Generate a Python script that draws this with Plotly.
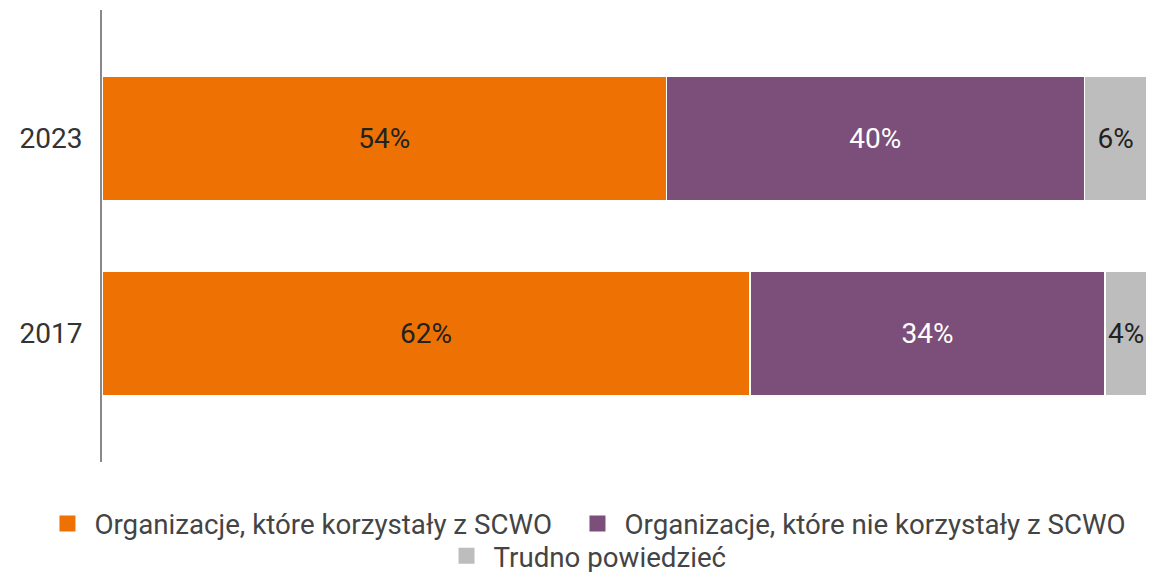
import plotly.graph_objects as go

years = ["2017", "2023"]
used = [62, 54]
not_used = [34, 40]
hard_to_say = [4, 6]

names = ["Organizacje, które korzystały z SCWO",
         "Organizacje, które nie korzystały z SCWO",
         "Trudno powiedzieć"]
colors = ["#EE7203", "#7B4F7A", "#BDBDBD"]
text_colors = ["#222222", "#FFFFFF", "#222222"]
series = [used, not_used, hard_to_say]
legends = ["legend", "legend2", "legend3"]

FONT = "Roboto, Arial, sans-serif"
FS = 28

fig = go.Figure()
for name, vals, col, tcol in zip(names, series, colors, text_colors):
    fig.add_trace(go.Bar(
        y=years, x=vals, name=name, orientation="h",
        marker=dict(color=col, line=dict(color="white", width=1.5)),
        text=[f"{v}%" for v in vals], textposition="inside",
        insidetextanchor="middle", textangle=0,
        textfont=dict(color=tcol, size=FS, family=FONT),
        width=0.64, showlegend=False, hoverinfo="skip",
    ))

# legend entries (square swatches), one legend per entry for exact placement
for name, col, lg in zip(names, colors, legends):
    fig.add_trace(go.Scatter(
        x=[None], y=[None], mode="markers", name=name,
        marker=dict(symbol="square", size=20, color=col),
        legend=lg, showlegend=True, hoverinfo="skip",
    ))

leg_common = dict(orientation="h", xanchor="left", yanchor="middle",
                  font=dict(size=27.7, color="#444444", family=FONT),
                  itemwidth=44, bgcolor="rgba(0,0,0,0)")

fig.update_layout(
    barmode="stack",
    width=1158, height=564,
    margin=dict(l=94, r=19, t=2, b=110, autoexpand=False),
    paper_bgcolor="white", plot_bgcolor="white",
    font=dict(family=FONT, size=FS, color="#333333"),
    uniformtext=dict(mode="show", minsize=FS),
    showlegend=True,
    legend=dict(x=-0.0589, y=-0.1372, **leg_common),
    legend2=dict(x=0.4483, y=-0.1372, **leg_common),
    legend3=dict(x=0.3230, y=-0.2085, **leg_common),
    xaxis=dict(range=[0, 100], visible=False, fixedrange=True, automargin=False),
    yaxis=dict(type="category", categoryarray=years, range=[-0.659, 1.659],
               showline=True, linecolor="#888888", linewidth=2,
               showgrid=False, zeroline=False, ticks="", automargin=False,
               ticklabelstandoff=12,
               tickfont=dict(size=FS, color="#333333")),
)

fig.write_html("out.html")
